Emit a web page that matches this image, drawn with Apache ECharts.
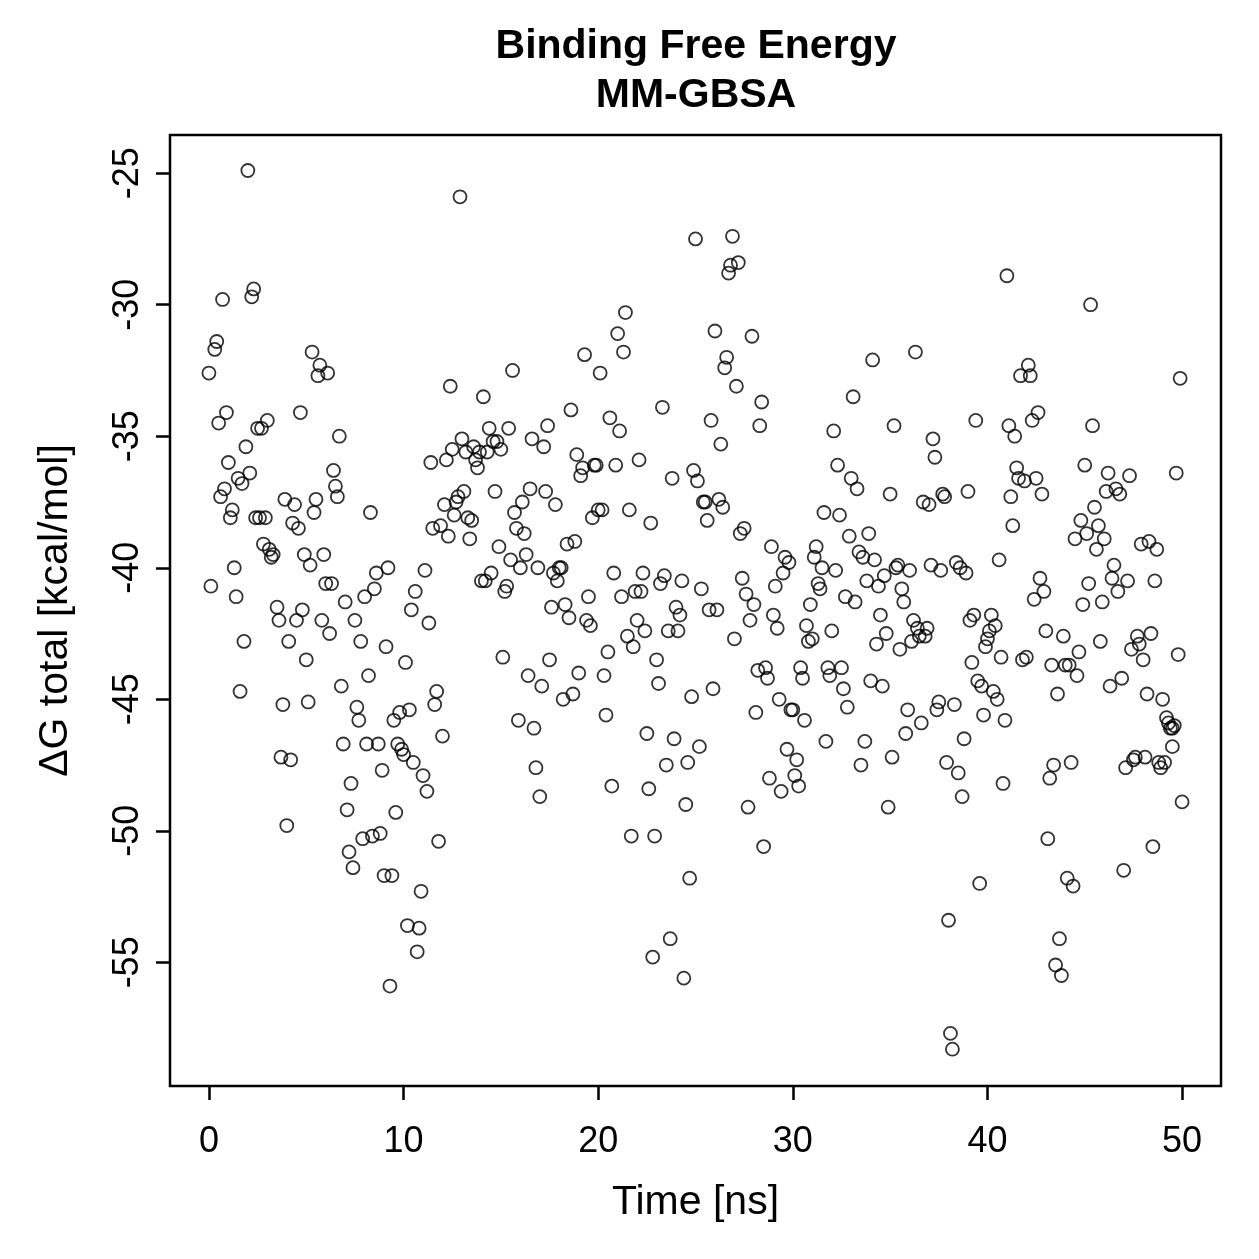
<!DOCTYPE html>
<html>
<head>
<meta charset="utf-8">
<script src="https://cdn.jsdelivr.net/npm/echarts@6/dist/echarts.min.js"></script>
<style>
    html, body { margin: 0; padding: 0; background: #fff; }
    #chart { width: 1259px; height: 1259px; }
</style>
</head>
<body>
<div id="chart"></div>
<script>
// time [ns] of each frame
const time = [
    0.0, 0.1, 0.3, 0.4, 0.5, 0.6, 0.7, 0.8, 0.9, 1.0,
    1.1, 1.2, 1.3, 1.4, 1.5, 1.6, 1.7, 1.8, 1.9, 2.0,
    2.1, 2.2, 2.3, 2.4, 2.5, 2.6, 2.7, 2.8, 2.9, 3.0,
    3.1, 3.2, 3.3, 3.5, 3.6, 3.7, 3.8, 3.9, 4.0, 4.1,
    4.2, 4.3, 4.4, 4.5, 4.6, 4.7, 4.8, 4.9, 5.0, 5.1,
    5.2, 5.3, 5.4, 5.5, 5.6, 5.7, 5.8, 5.9, 6.0, 6.1,
    6.2, 6.3, 6.4, 6.5, 6.6, 6.7, 6.8, 6.9, 7.0, 7.1,
    7.2, 7.3, 7.4, 7.5, 7.6, 7.7, 7.8, 7.9, 8.0, 8.1,
    8.2, 8.3, 8.4, 8.5, 8.6, 8.7, 8.8, 8.9, 9.0, 9.1,
    9.2, 9.3, 9.4, 9.5, 9.6, 9.7, 9.8, 9.9, 10.0, 10.1,
    10.2, 10.3, 10.4, 10.5, 10.6, 10.7, 10.8, 10.9, 11.0, 11.1,
    11.2, 11.3, 11.4, 11.5, 11.6, 11.7, 11.8, 11.9, 12.0, 12.1,
    12.2, 12.3, 12.4, 12.5, 12.6, 12.7, 12.8, 12.9, 13.0, 13.1,
    13.2, 13.3, 13.4, 13.5, 13.6, 13.7, 13.8, 13.9, 14.0, 14.1,
    14.2, 14.3, 14.4, 14.5, 14.6, 14.7, 14.8, 14.9, 15.0, 15.1,
    15.2, 15.3, 15.4, 15.5, 15.6, 15.7, 15.8, 15.9, 16.0, 16.1,
    16.2, 16.3, 16.4, 16.5, 16.6, 16.7, 16.8, 16.9, 17.0, 17.1,
    17.2, 17.3, 17.4, 17.5, 17.6, 17.7, 17.8, 17.9, 18.0, 18.1,
    18.2, 18.3, 18.4, 18.5, 18.6, 18.7, 18.8, 18.9, 19.0, 19.1,
    19.2, 19.3, 19.4, 19.5, 19.6, 19.7, 19.8, 19.9, 20.0, 20.1,
    20.2, 20.3, 20.4, 20.5, 20.6, 20.7, 20.8, 20.9, 21.0, 21.1,
    21.2, 21.3, 21.4, 21.5, 21.6, 21.7, 21.8, 21.9, 22.0, 22.1,
    22.2, 22.3, 22.4, 22.5, 22.6, 22.7, 22.8, 22.9, 23.0, 23.1,
    23.2, 23.3, 23.4, 23.5, 23.6, 23.7, 23.8, 23.9, 24.0, 24.1,
    24.2, 24.3, 24.4, 24.5, 24.6, 24.7, 24.8, 24.9, 25.0, 25.1,
    25.2, 25.3, 25.4, 25.5, 25.6, 25.7, 25.8, 25.9, 26.0, 26.1,
    26.2, 26.3, 26.4, 26.5, 26.6, 26.7, 26.8, 26.9, 27.0, 27.1,
    27.2, 27.3, 27.4, 27.5, 27.6, 27.7, 27.8, 27.9, 28.0, 28.1,
    28.2, 28.3, 28.4, 28.5, 28.6, 28.7, 28.8, 28.9, 29.0, 29.1,
    29.2, 29.3, 29.4, 29.5, 29.6, 29.7, 29.8, 29.9, 30.0, 30.1,
    30.2, 30.3, 30.4, 30.5, 30.6, 30.7, 30.8, 30.9, 31.0, 31.1,
    31.2, 31.3, 31.4, 31.5, 31.6, 31.7, 31.8, 31.9, 32.0, 32.1,
    32.2, 32.3, 32.4, 32.5, 32.6, 32.7, 32.8, 32.9, 33.0, 33.1,
    33.2, 33.3, 33.4, 33.5, 33.6, 33.7, 33.8, 33.9, 34.0, 34.1,
    34.2, 34.3, 34.4, 34.5, 34.6, 34.7, 34.8, 34.9, 35.0, 35.1,
    35.2, 35.3, 35.4, 35.5, 35.6, 35.7, 35.8, 35.9, 36.0, 36.1,
    36.2, 36.3, 36.4, 36.5, 36.6, 36.7, 36.8, 36.9, 37.0, 37.1,
    37.2, 37.3, 37.4, 37.5, 37.6, 37.7, 37.8, 37.9, 38.0, 38.1,
    38.2, 38.3, 38.4, 38.5, 38.6, 38.7, 38.8, 38.9, 39.0, 39.1,
    39.2, 39.3, 39.4, 39.5, 39.6, 39.7, 39.8, 39.9, 40.0, 40.1,
    40.2, 40.3, 40.4, 40.5, 40.6, 40.7, 40.8, 40.9, 41.0, 41.1,
    41.2, 41.3, 41.4, 41.5, 41.6, 41.7, 41.8, 41.9, 42.0, 42.1,
    42.2, 42.3, 42.4, 42.5, 42.6, 42.7, 42.8, 42.9, 43.0, 43.1,
    43.2, 43.3, 43.4, 43.5, 43.6, 43.7, 43.8, 43.9, 44.0, 44.1,
    44.2, 44.3, 44.4, 44.5, 44.6, 44.7, 44.8, 44.9, 45.0, 45.1,
    45.2, 45.3, 45.4, 45.5, 45.6, 45.7, 45.8, 45.9, 46.0, 46.1,
    46.2, 46.3, 46.4, 46.5, 46.6, 46.7, 46.8, 46.9, 47.0, 47.1,
    47.2, 47.3, 47.4, 47.5, 47.6, 47.7, 47.8, 47.9, 48.0, 48.1,
    48.2, 48.3, 48.4, 48.5, 48.6, 48.7, 48.8, 48.9, 49.0, 49.1,
    49.2, 49.3, 49.4, 49.5, 49.5, 49.6, 49.7, 49.8, 49.9, 50.0
]

// ΔG total [kcal/mol] at each frame
const dG = [
    -32.6, -40.7, -31.7, -31.4, -34.5, -37.3, -29.8, -37.0, -34.1, -36.0,
    -38.1, -37.8, -40.0, -41.1, -36.6, -44.7, -36.8, -42.8, -35.4, -24.9,
    -36.4, -29.7, -29.4, -38.1, -34.7, -38.1, -34.7, -39.1, -38.1, -34.4,
    -39.3, -39.6, -39.5, -41.5, -42.0, -47.2, -45.2, -37.4, -49.8, -42.8,
    -47.3, -38.3, -37.6, -42.0, -38.5, -34.1, -41.6, -39.5, -43.5, -45.1,
    -39.9, -31.8, -37.9, -37.4, -32.7, -32.3, -42.0, -39.5, -40.6, -32.6,
    -42.5, -40.6, -36.3, -36.9, -37.3, -35.0, -44.5, -46.7, -41.3, -49.2,
    -50.8, -48.2, -51.4, -42.0, -45.3, -45.8, -42.8, -50.3, -41.1, -46.7,
    -44.1, -37.9, -50.2, -40.8, -40.2, -46.7, -50.1, -47.7, -51.7, -43.0,
    -40.0, -55.9, -51.7, -45.8, -49.3, -46.7, -45.5, -46.9, -47.1, -43.6,
    -53.6, -45.4, -41.6, -47.4, -40.9, -54.6, -53.7, -52.3, -47.9, -40.1,
    -48.5, -42.1, -36.0, -38.5, -45.2, -44.7, -50.4, -38.4, -46.4, -37.6,
    -35.9, -38.8, -33.1, -35.5, -38.0, -37.5, -37.3, -25.9, -35.1, -37.1,
    -35.6, -38.1, -38.9, -38.2, -35.4, -35.9, -36.2, -35.6, -40.5, -33.5,
    -40.5, -35.6, -34.7, -40.2, -35.2, -37.1, -35.2, -39.2, -35.5, -43.4,
    -40.9, -40.7, -34.7, -39.7, -32.5, -37.9, -38.5, -45.8, -40.0, -37.5,
    -38.7, -39.5, -44.1, -37.0, -35.1, -46.1, -47.6, -40.0, -48.7, -44.5,
    -35.4, -37.1, -34.6, -43.5, -41.5, -40.2, -37.6, -40.5, -40.0, -40.0,
    -45.0, -41.4, -39.1, -41.9, -34.0, -44.8, -39.0, -35.7, -44.0, -36.5,
    -36.2, -31.9, -42.0, -41.1, -42.2, -38.1, -36.1, -36.1, -37.8, -32.6,
    -37.8, -44.1, -45.6, -43.2, -34.3, -48.3, -40.2, -36.1, -31.1, -34.8,
    -41.1, -31.8, -30.3, -42.6, -37.8, -50.2, -43.0, -40.9, -42.0, -35.9,
    -40.9, -40.2, -42.4, -46.3, -48.4, -38.3, -54.8, -50.2, -43.5, -44.4,
    -40.6, -33.9, -40.3, -47.5, -42.4, -54.1, -36.6, -46.5, -41.5, -42.4,
    -41.8, -40.5, -55.6, -49.0, -47.4, -51.8, -44.9, -36.3, -27.5, -36.7,
    -46.8, -40.8, -37.5, -37.5, -38.2, -41.6, -34.4, -44.6, -31.0, -41.6,
    -37.4, -35.3, -37.7, -32.4, -32.0, -28.8, -28.5, -27.4, -42.7, -33.1,
    -28.4, -38.7, -40.4, -38.5, -41.0, -49.1, -42.0, -31.2, -41.4, -45.5,
    -43.9, -34.6, -33.7, -50.6, -43.8, -44.2, -48.0, -39.2, -41.8, -40.7,
    -42.3, -45.0, -48.5, -40.2, -39.6, -46.9, -39.8, -45.4, -45.4, -47.9,
    -47.3, -48.3, -43.8, -44.2, -45.8, -42.2, -42.8, -41.4, -42.7, -39.6,
    -39.2, -40.6, -40.8, -40.0, -37.9, -46.6, -43.8, -44.1, -42.4, -34.8,
    -40.1, -36.1, -38.0, -43.8, -44.6, -41.1, -45.3, -38.8, -36.6, -33.5,
    -41.3, -37.0, -39.4, -47.5, -39.6, -46.6, -40.5, -38.7, -44.3, -32.1,
    -39.7, -42.9, -40.7, -41.8, -44.5, -40.3, -42.5, -49.1, -37.2, -47.2,
    -34.6, -40.0, -39.9, -43.1, -40.8, -41.3, -46.3, -45.4, -40.1, -42.8,
    -42.0, -31.8, -42.3, -42.6, -45.9, -37.5, -42.6, -42.3, -37.6, -39.9,
    -35.1, -35.8, -45.4, -45.1, -40.1, -37.2, -37.3, -47.4, -53.4, -57.7,
    -58.3, -45.2, -39.8, -47.8, -40.0, -48.7, -46.5, -40.2, -37.1, -42.0,
    -43.6, -41.8, -34.4, -44.3, -52.0, -44.5, -45.6, -43.0, -42.7, -42.4,
    -41.8, -44.7, -42.2, -45.0, -39.7, -43.4, -48.2, -45.8, -28.9, -34.6,
    -37.3, -38.4, -35.0, -36.2, -36.6, -32.7, -43.5, -36.7, -43.4, -32.3,
    -32.7, -34.4, -41.2, -36.6, -34.1, -40.4, -37.2, -40.9, -42.4, -50.3,
    -48.0, -43.7, -47.5, -55.1, -44.8, -54.1, -55.5, -42.6, -43.7, -51.8,
    -43.7, -47.4, -52.1, -38.9, -44.1, -43.2, -38.2, -41.4, -36.1, -38.7,
    -40.6, -30.0, -34.6, -37.7, -39.3, -38.4, -42.8, -41.3, -38.9, -37.1,
    -36.4, -44.5, -40.4, -39.9, -37.0, -40.9, -37.2, -44.2, -51.5, -47.6,
    -40.5, -36.5, -43.1, -47.3, -47.2, -42.6, -42.9, -39.1, -43.5, -47.2,
    -44.8, -39.0, -42.5, -50.6, -40.5, -39.3, -47.4, -47.6, -45.0, -47.4,
    -45.7, -45.9, -46.1, -46.1, -46.8, -46.0, -36.4, -43.3, -32.8, -48.9
]

const xTicks = [0, 10, 20, 30, 40, 50]
const yTicks = [-55, -50, -45, -40, -35, -30, -25]

const xMin = -2, xMax = 52
const yMin = -59.7, yMax = -23.55

const font = '"Liberation Sans", Arial, Helvetica, sans-serif'
const tickLen = 14
const tickLine = { color: '#000', width: 2.5 }

const chart = echarts.init(document.getElementById('chart'))

const titleText = (text, y) => ({
    type: 'text', x: 696, y: y, silent: true,
    style: {
        text: text, fill: '#000',
        font: 'bold 41px ' + font,
        align: 'center', verticalAlign: 'middle',
        textAlign: 'center', textVerticalAlign: 'middle'
    }
})

// thin strips just outside the box carry the tick marks (drawn inward)
const hidden = { type: 'value', min: 0, max: 1, show: false }

chart.setOption({
    animation: false,
    backgroundColor: '#fff',
    textStyle: { fontFamily: font, color: '#000' },
    graphic: [
        titleText('Binding Free Energy', 47),
        titleText('MM-GBSA', 96)
    ],
    grid: [
        {
            left: 170, right: 38, top: 135, bottom: 173,
            show: true,
            borderColor: '#000',
            borderWidth: 2.5,
            backgroundColor: 'transparent'
        },
        { left: 170, right: 38, bottom: 173 - tickLen, height: tickLen },
        { left: 170 - tickLen, width: tickLen, top: 135, bottom: 173 }
    ],
    xAxis: [
        {
            type: 'value', gridIndex: 0,
            min: xMin, max: xMax,
            name: 'Time [ns]',
            nameLocation: 'middle',
            nameGap: 96,
            nameTextStyle: { fontSize: 41, color: '#000', fontFamily: font },
            axisLine: { show: false, onZero: false },
            splitLine: { show: false },
            axisTick: { show: false },
            axisLabel: {
                customValues: xTicks,
                fontSize: 36, color: '#000', fontFamily: font, margin: 38
            }
        },
        {
            type: 'value', gridIndex: 1, position: 'top',
            min: xMin, max: xMax,
            axisLine: { show: false, onZero: false },
            splitLine: { show: false },
            axisLabel: { show: false },
            axisTick: {
                show: true, inside: true, length: tickLen,
                customValues: xTicks, lineStyle: tickLine
            }
        },
        Object.assign({ gridIndex: 2 }, hidden)
    ],
    yAxis: [
        {
            type: 'value', gridIndex: 0,
            min: yMin, max: yMax,
            name: 'ΔG total [kcal/mol]',
            nameLocation: 'middle',
            nameGap: 94,
            nameTextStyle: { fontSize: 41, color: '#000', fontFamily: font },
            axisLine: { show: false, onZero: false },
            splitLine: { show: false },
            axisTick: { show: false },
            axisLabel: {
                customValues: yTicks,
                rotate: 90,
                fontSize: 36, color: '#000', fontFamily: font, margin: 24,
                formatter: (v) => String(v)
            }
        },
        Object.assign({ gridIndex: 1 }, hidden),
        {
            type: 'value', gridIndex: 2, position: 'right',
            min: yMin, max: yMax,
            axisLine: { show: false, onZero: false },
            splitLine: { show: false },
            axisLabel: { show: false },
            axisTick: {
                show: true, inside: true, length: tickLen,
                customValues: yTicks, lineStyle: tickLine
            }
        }
    ],
    series: [{
        type: 'scatter',
        xAxisIndex: 0,
        yAxisIndex: 0,
        symbol: 'circle',
        symbolSize: 13,
        data: time.map((t, i) => [t, dG[i]]),
        itemStyle: {
            color: 'rgba(0,0,0,0)',
            borderColor: '#000',
            borderWidth: 1.8
        },
        emphasis: { disabled: true }
    }]
})
</script>
</body>
</html>
